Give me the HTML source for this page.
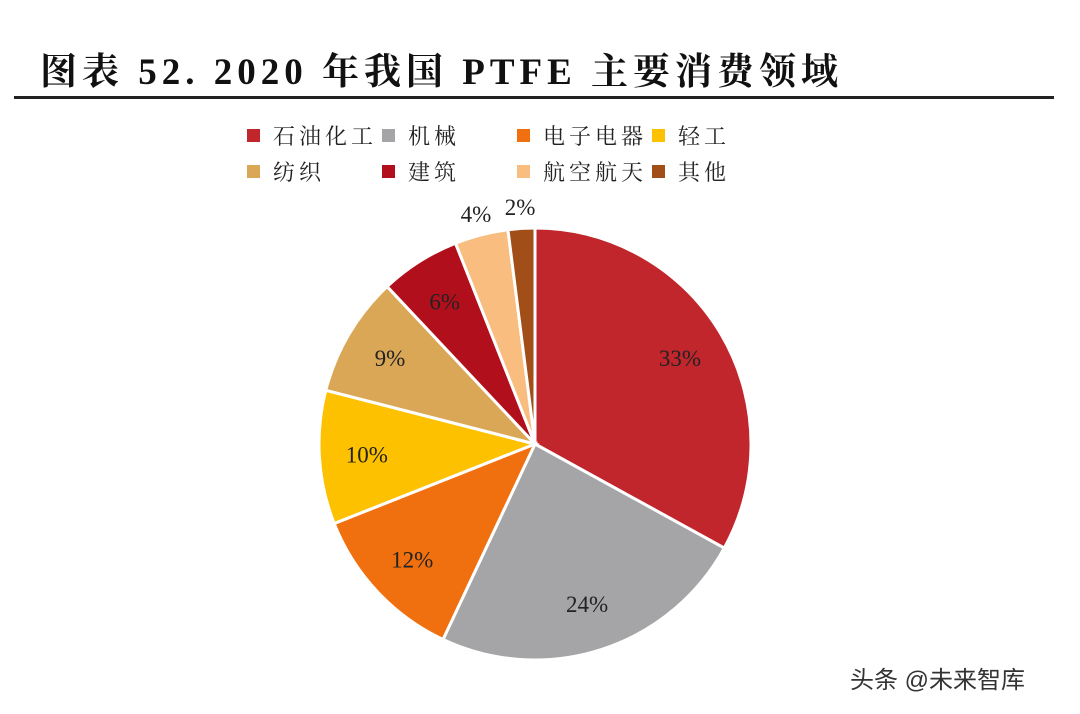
<!DOCTYPE html>
<html><head><meta charset="utf-8"><style>
body{margin:0;background:#fff;width:1080px;height:709px;overflow:hidden;font-family:"Liberation Serif","Noto Serif CJK SC",serif;}
</style></head><body>
<svg width="1080" height="709" viewBox="0 0 1080 709" xmlns="http://www.w3.org/2000/svg">
<text x="40" y="84" font-size="37" font-weight="bold" letter-spacing="5" font-family="Liberation Serif,'Noto Serif CJK SC',serif" fill="#111">图表 52. 2020 年我国 PTFE 主要消费领域</text>
<rect x="14" y="96" width="1040" height="3" fill="#222"/>
<g id="legend"></g>
<g id="pie"></g>
<g id="labels"></g>
<text x="850" y="688" font-size="24" font-family="Liberation Sans,'Noto Sans CJK SC',sans-serif" fill="#333">头条 @未来智库</text>
</svg>
<script>
const categories=["石油化工","机械","电子电器","轻工","纺织","建筑","航空航天","其他"];
const values=[33,24,12,10,9,6,4,2];
const colors=["#C0262C","#A5A5A7","#F0700F","#FDC100","#DAA756","#B20F1C","#F8BD7F","#A24E18"];
const NS="http://www.w3.org/2000/svg";
const cx=535,cy=444,R=216;
const total=values.reduce((a,b)=>a+b,0);
const pie=document.getElementById('pie'),lab=document.getElementById('labels'),leg=document.getElementById('legend');
function pt(a,r){return [cx+r*Math.sin(a),cy-r*Math.cos(a)];}
let acc=0;
values.forEach((v,i)=>{
  const a0=acc/total*2*Math.PI;acc+=v;const a1=acc/total*2*Math.PI;
  const p0=pt(a0,R),p1=pt(a1,R);
  const p=document.createElementNS(NS,'path');
  p.setAttribute('d',`M${cx},${cy}L${p0[0]},${p0[1]}A${R},${R} 0 ${a1-a0>Math.PI?1:0} 1 ${p1[0]},${p1[1]}Z`);
  p.setAttribute('fill',colors[i]);p.setAttribute('stroke','#fff');p.setAttribute('stroke-width','3');
  
  
  pie.appendChild(p);
  const am=(a0+a1)/2;const r=v<5?R*1.1:R*0.78;
  const lp=pt(am,r);
  const t=document.createElementNS(NS,'text');
  t.setAttribute('x',lp[0]);t.setAttribute('y',lp[1]+8);t.setAttribute('text-anchor','middle');
  t.setAttribute('font-size','23');t.setAttribute('fill','#222');
  t.textContent=v+'%';
  
  
  lab.appendChild(t);
  const col=i%4,row=Math.floor(i/4);
  const lx=[247,382,517,652][col],ly=[136,172][row];
  const s=document.createElementNS(NS,'rect');
  s.setAttribute('x',lx);s.setAttribute('y',ly-7);s.setAttribute('width',13);s.setAttribute('height',13);s.setAttribute('fill',colors[i]);
  
  
  leg.appendChild(s);
  const lt=document.createElementNS(NS,'text');
  lt.setAttribute('x',lx+26);lt.setAttribute('y',ly+8);lt.setAttribute('font-size','22');lt.setAttribute('letter-spacing','4');lt.setAttribute('fill','#222');
  lt.textContent=categories[i];
  
  
  leg.appendChild(lt);
});
</script>
</body></html>
